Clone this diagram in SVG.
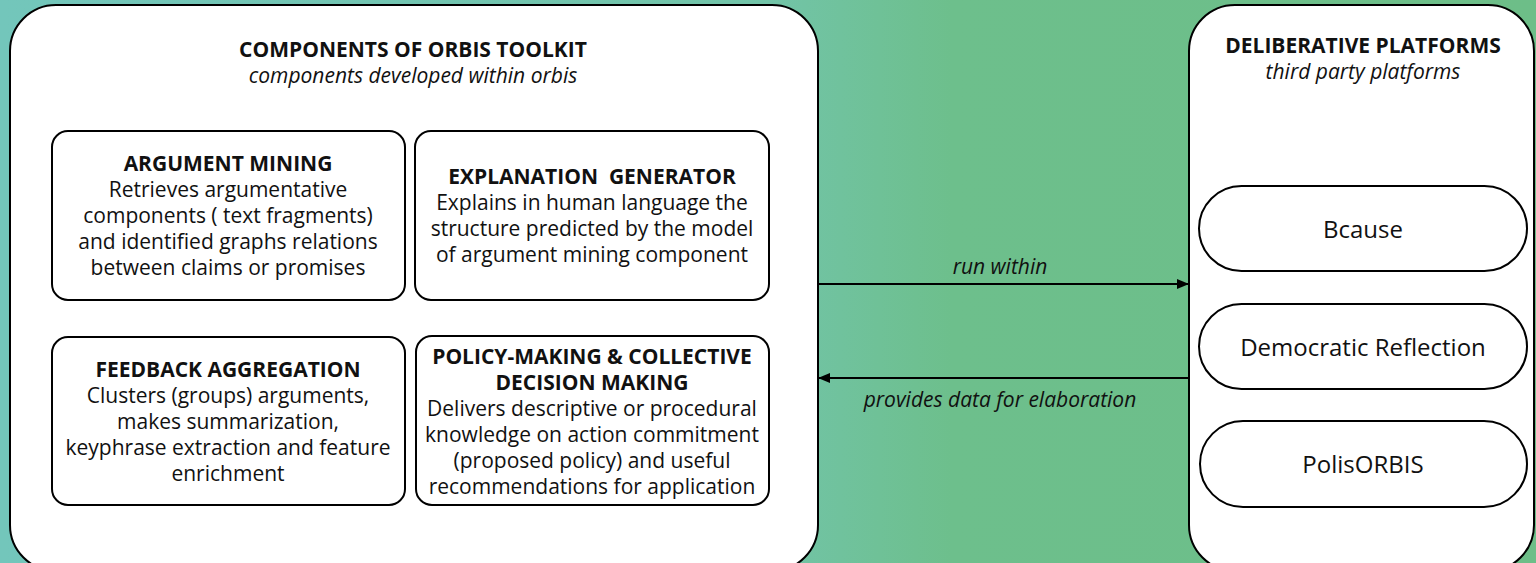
<svg xmlns="http://www.w3.org/2000/svg" width="1536" height="563" viewBox="0 0 1536 563">
<style>
.frame{fill:#fff;stroke:#000;stroke-width:2}
.box{fill:#fff;stroke:#000;stroke-width:2}
text{font-family:"Open Sans","Noto Sans","Liberation Sans",sans-serif;fill:#111;text-anchor:middle}
.t{font-weight:bold;font-size:21px}
.st{font-style:italic;font-size:21px}
.h{font-weight:bold;font-size:21px}
.b{font-size:21px}
.p{font-size:24px}
.lbl{font-style:italic;font-size:21px}
.conn{stroke:#000;stroke-width:2;fill:none}
</style>
<defs>
<linearGradient id="bg" x1="0" y1="0" x2="1536" y2="0" gradientUnits="userSpaceOnUse">
<stop offset="0" stop-color="#73c6bb"/>
<stop offset="0.5" stop-color="#72c4a8"/>
<stop offset="0.62" stop-color="#6dbf8c"/>
<stop offset="1" stop-color="#6dbe88"/>
</linearGradient>
<marker id="ah" viewBox="0 0 12 10" refX="12" refY="5" markerWidth="12" markerHeight="10" markerUnits="userSpaceOnUse" orient="auto">
<path d="M0,0 L12,5 L0,10 Z" fill="#000"/>
</marker>
</defs>
<rect x="0" y="0" width="1536" height="563" fill="url(#bg)"/>
<g id="toolkit">
<rect class="frame" x="10" y="5" width="808" height="566" rx="46"/>
<text class="t" x="413" y="57">COMPONENTS OF ORBIS TOOLKIT</text>
<text class="st" x="413" y="83">components developed within orbis</text>
</g>
<g id="argument-mining">
<rect class="box" x="52" y="131" width="353" height="169" rx="16"/>
<text class="h" x="228" y="171">ARGUMENT MINING</text>
<text class="b" x="228" y="197">Retrieves argumentative</text>
<text class="b" x="228" y="223">components ( text fragments)</text>
<text class="b" x="228" y="249">and identified graphs relations</text>
<text class="b" x="228" y="275">between claims or promises</text>
</g>
<g id="explanation-generator">
<rect class="box" x="415" y="131" width="354" height="169" rx="16"/>
<text class="h" x="592" y="184" xml:space="preserve">EXPLANATION  GENERATOR</text>
<text class="b" x="592" y="210">Explains in human language the</text>
<text class="b" x="592" y="236">structure predicted by the model</text>
<text class="b" x="592" y="262">of argument mining component</text>
</g>
<g id="feedback-aggregation">
<rect class="box" x="52" y="337" width="353" height="168" rx="16"/>
<text class="h" x="228" y="377">FEEDBACK AGGREGATION</text>
<text class="b" x="228" y="403">Clusters (groups) arguments,</text>
<text class="b" x="228" y="429">makes summarization,</text>
<text class="b" x="228" y="455">keyphrase extraction and feature</text>
<text class="b" x="228" y="481">enrichment</text>
</g>
<g id="policy-making">
<rect class="box" x="416" y="336" width="353" height="169" rx="16"/>
<text class="h" x="592" y="364">POLICY-MAKING &amp; COLLECTIVE</text>
<text class="h" x="592" y="390">DECISION MAKING</text>
<text class="b" x="592" y="416">Delivers descriptive or procedural</text>
<text class="b" x="592" y="442">knowledge on action commitment</text>
<text class="b" x="592" y="468">(proposed policy) and useful</text>
<text class="b" x="592" y="494">recommendations for application</text>
</g>
<g id="platforms">
<rect class="frame" x="1189" y="5" width="345" height="566" rx="46"/>
<text class="t" x="1363" y="53">DELIBERATIVE PLATFORMS</text>
<text class="st" x="1363" y="79">third party platforms</text>
</g>
<g id="bcause">
<rect class="box" x="1199" y="186" width="328" height="85" rx="42.5"/>
<text class="p" x="1363" y="238">Bcause</text>
</g>
<g id="democratic-reflection">
<rect class="box" x="1199" y="304" width="328" height="85" rx="42.5"/>
<text class="p" x="1363" y="356">Democratic Reflection</text>
</g>
<g id="polisorbis">
<rect class="box" x="1200" y="421" width="327" height="86" rx="43"/>
<text class="p" x="1363" y="473">PolisORBIS</text>
</g>
<g id="connectors">
<line class="conn" x1="818" y1="284" x2="1189" y2="284" marker-end="url(#ah)"/>
<text class="lbl" x="1000" y="274">run within</text>
<line class="conn" x1="1189" y1="378" x2="818" y2="378" marker-end="url(#ah)"/>
<text class="lbl" x="1000" y="407">provides data for elaboration</text>
</g>
</svg>
